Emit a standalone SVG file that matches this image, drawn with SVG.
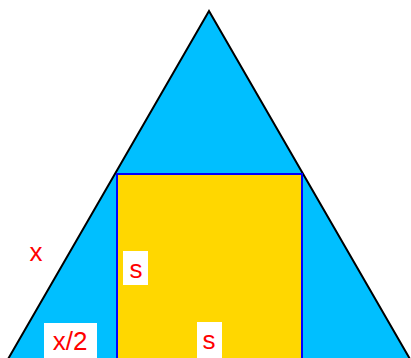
<svg xmlns="http://www.w3.org/2000/svg" width="411" height="358" viewBox="0 0 411 358">
<style>
.lbl{font-family:"Liberation Sans",Arial,sans-serif;font-size:26px;fill:#FF0000;text-anchor:middle}
.box{fill:#FFFFFF;stroke:none}
</style>
<rect x="0" y="0" width="411" height="358" fill="#FFFFFF"/>
<g id="triangle">
<polygon points="209,11 -15.6,400 433.6,400" fill="#00BFFF" stroke="#000000" stroke-width="2" stroke-linejoin="miter"/>
</g>
<g id="square">
<rect x="117" y="174" width="185" height="200" fill="#FFD700" stroke="#0000FF" stroke-width="2"/>
</g>
<g id="label-x">
<text class="lbl" x="36" y="261">x</text>
</g>
<g id="label-s-side">
<rect class="box" x="123" y="251" width="25" height="34"/>
<text class="lbl" x="136" y="278">s</text>
</g>
<g id="label-x2">
<rect class="box" x="44" y="323" width="53" height="40"/>
<text class="lbl" x="70" y="350">x/2</text>
</g>
<g id="label-s-base">
<rect class="box" x="197" y="322" width="25" height="40"/>
<text class="lbl" x="209" y="349">s</text>
</g>
</svg>
